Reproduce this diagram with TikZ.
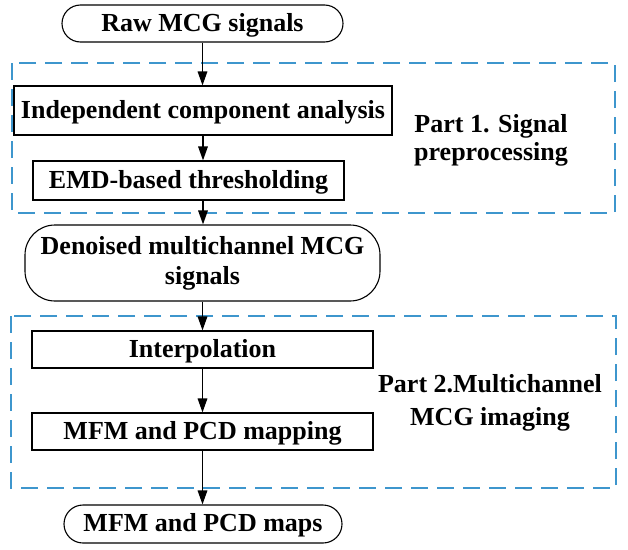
\documentclass[tikz,border=0pt]{standalone}
\usepackage{fontspec}
\setmainfont{Liberation Serif}
\usetikzlibrary{arrows.meta}
\definecolor{dashblue}{RGB}{62,150,205}
\begin{document}
\begin{tikzpicture}[x=1pt,y=-1pt,
  every node/.style={font=\fontsize{26}{30}\selectfont\bfseries, inner sep=0pt},
  oneline/.style={text height=19pt, text depth=4pt},
  procbox/.style={draw, line width=1.1pt, rectangle, oneline},
  termbox/.style={draw, line width=1.1pt, rectangle},
  partbox/.style={draw=dashblue, line width=1.5pt, dash pattern=on 17pt off 9pt},
  flow/.style={line width=1.6pt, -{Triangle[length=14pt,width=9.5pt]}},
  partlabel/.style={align=center}
]
\useasboundingbox (0,0) rectangle (628,549);

% dashed part frames
\draw[partbox] (12,63) rectangle (615,213);
\draw[partbox] (11,316) rectangle (616,488);

% nodes
\node[termbox, oneline, rounded corners=18.5pt, minimum width=281pt, minimum height=37pt] (raw) at (202.5,23.5) {Raw MCG signals};
\node[procbox, minimum width=378pt, minimum height=49pt] (ica) at (203,110.5) {Independent component analysis};
\node[procbox, minimum width=311pt, minimum height=39pt] (emd) at (188.5,180.5) {EMD-based thresholding};
\node[termbox, rounded corners=30pt, minimum width=355pt, minimum height=76pt, align=center] (den) at (202.5,263) {Denoised multichannel MCG\\signals};
\node[procbox, minimum width=341pt, minimum height=37pt] (interp) at (202.5,349.5) {Interpolation};
\node[procbox, minimum width=341pt, minimum height=37pt] (mfmmap) at (202.5,431.5) {MFM and PCD mapping};
\node[termbox, oneline, rounded corners=19pt, minimum width=278pt, minimum height=38pt] (maps) at (203,524) {MFM and PCD maps};

% part labels
\node[partlabel, font=\fontsize{26}{28}\selectfont\bfseries] (p1) at (491,140) {Part 1. Signal\\preprocessing};
\node[partlabel, font=\fontsize{26}{33}\selectfont\bfseries] (p2) at (490,402.5) {Part 2.Multichannel\\MCG imaging};

% connectors
\draw[flow] (raw.south) -- (raw.south |- ica.north);
\draw[flow] (ica.south) -- (ica.south |- emd.north);
\coordinate (emdout) at (ica.south |- emd.south);
\draw[flow] (emdout) -- (emdout |- den.north);
\draw[flow] (den.south) -- (den.south |- interp.north);
\draw[flow] (interp.south) -- (interp.south |- mfmmap.north);
\draw[flow] (mfmmap.south) -- (mfmmap.south |- maps.north);
\end{tikzpicture}
\end{document}
